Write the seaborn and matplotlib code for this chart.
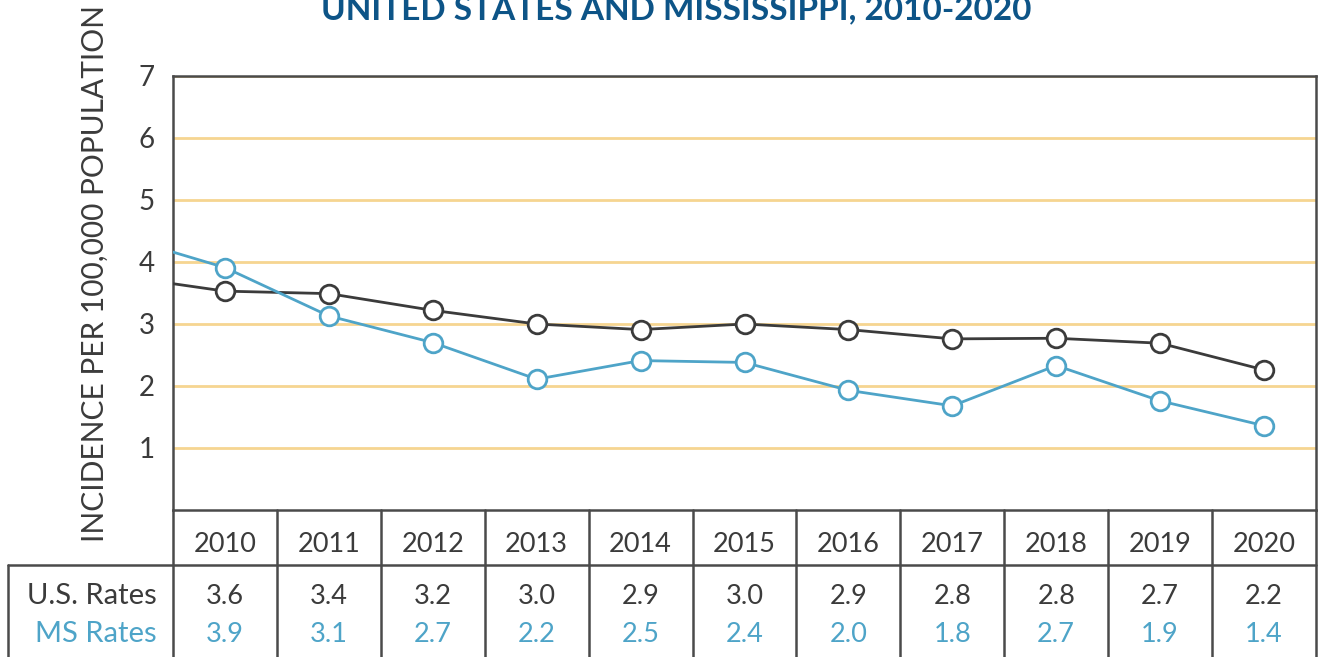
import matplotlib
matplotlib.use('Agg')
import matplotlib.pyplot as plt
import matplotlib.transforms as mtransforms
from matplotlib.lines import Line2D
import seaborn as sns
import pandas as pd

# Data
years = [2010, 2011, 2012, 2013, 2014, 2015, 2016, 2017, 2018, 2019, 2020]
us_plotted = [3.53, 3.49, 3.22, 3.0, 2.91, 3.0, 2.91, 2.76, 2.77, 2.69, 2.26]
ms_plotted = [3.91, 3.13, 2.70, 2.11, 2.41, 2.38, 1.93, 1.68, 2.33, 1.76, 1.36]
# where each line meets the left edge of the plot
us_lead = 3.65
ms_lead = 4.16
us_table = ['3.6', '3.4', '3.2', '3.0', '2.9', '3.0', '2.9', '2.8', '2.8', '2.7', '2.2']
ms_table = ['3.9', '3.1', '2.7', '2.2', '2.5', '2.4', '2.0', '1.8', '2.7', '1.9', '1.4']
y_ticks = [1, 2, 3, 4, 5, 6, 7]

title = 'UNITED STATES AND MISSISSIPPI, 2010-2020'
y_label = 'INCIDENCE PER 100,000 POPULATION'

dark = '#3b3b3b'
blue = '#4ea4c8'
gold = '#f6d591'
navy = '#0d5487'
edge = '#4a4a4a'

sns.set_theme(style='white')
plt.rcParams['font.family'] = ['Lato', 'DejaVu Sans']

W, H = 1318, 657
fig = plt.figure(figsize=(W / 100, H / 100), dpi=100)
ax = fig.add_axes([173 / W, 1 - 510 / H, (1316 - 173) / W, (510 - 76) / H])

pos = list(range(len(years)))
df = pd.DataFrame({'pos': pos, 'us': us_plotted, 'ms': ms_plotted})
us_line = pd.DataFrame({'pos': [-0.5] + pos, 'rate': [us_lead] + us_plotted})
ms_line = pd.DataFrame({'pos': [-0.5] + pos, 'rate': [ms_lead] + ms_plotted})

sns.lineplot(data=us_line, x='pos', y='rate', color=dark, lw=2.0, ax=ax, zorder=3)
sns.lineplot(data=ms_line, x='pos', y='rate', color=blue, lw=2.0, ax=ax, zorder=3)
sns.scatterplot(data=df, x='pos', y='us', s=180, facecolor='white', edgecolor=dark,
                linewidth=2.0, ax=ax, zorder=4)
sns.scatterplot(data=df, x='pos', y='ms', s=180, facecolor='white', edgecolor=blue,
                linewidth=2.0, ax=ax, zorder=4)

ax.set_xlim(-0.5, 10.5)
ax.set_ylim(0, 7)
ax.set_xticks([])
ax.set_yticks(y_ticks)
ax.set_yticklabels([str(t) for t in y_ticks], fontsize=20, color=dark)
ax.tick_params(axis='y', length=0, pad=13)
ax.set_xlabel('')
ax.set_ylabel('')
ax.grid(axis='y', color=gold, lw=2.0)
ax.set_axisbelow(True)
for sp in ax.spines.values():
    sp.set_color(edge)
    sp.set_linewidth(1.8)

fig.text(0.513, 1 - 19 / H, title, ha='center', va='baseline', fontsize=24,
         fontweight='bold', color=navy)
fig.text(95 / W, 1 - 273 / H, y_label, rotation=90, ha='center', va='center',
         fontsize=21.5, color=dark)

# Table under the plot
trans = mtransforms.blended_transform_factory(ax.transData, fig.transFigure)
y_top = 1 - 510 / H
y_mid = 1 - 565 / H
for b in [p - 0.5 for p in pos] + [10.5]:
    fig.add_artist(Line2D([b, b], [0, y_top], transform=trans, color=edge, lw=1.8))
fig.add_artist(Line2D([8 / W, 1316 / W], [y_mid, y_mid], transform=fig.transFigure,
                      color=edge, lw=1.8))
fig.add_artist(Line2D([8 / W, 8 / W], [0, y_mid], transform=fig.transFigure,
                      color=edge, lw=1.8))

for p, yr, us, ms in zip(pos, years, us_table, ms_table):
    fig.text(p, 1 - 544 / H, str(yr), transform=trans, ha='center', va='center',
             fontsize=19.5, color=dark)
    fig.text(p, 1 - 596 / H, us, transform=trans, ha='center', va='center',
             fontsize=19.5, color=dark)
    fig.text(p, 1 - 634 / H, ms, transform=trans, ha='center', va='center',
             fontsize=19.5, color=blue)

fig.text(157 / W, 1 - 596 / H, 'U.S. Rates', ha='right', va='center', fontsize=21, color=dark)
fig.text(157 / W, 1 - 634 / H, 'MS Rates', ha='right', va='center', fontsize=21, color=blue)

fig.savefig('out.png', dpi=100)
